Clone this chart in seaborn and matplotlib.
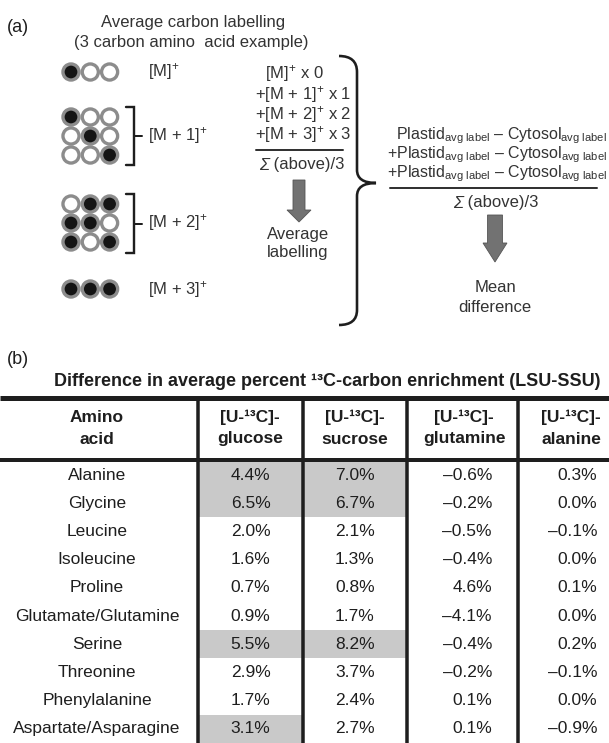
"""Panel (a): average carbon labelling diagram, panel (b): LSU-SSU enrichment table."""
import numpy as np
import pandas as pd
import matplotlib
matplotlib.use("Agg")
import matplotlib.pyplot as plt
from matplotlib.path import Path
from matplotlib.patches import PathPatch
from matplotlib.colors import ListedColormap
import seaborn as sns

# ---- table data (panel b) ----
AMINO_ACIDS = ["Alanine", "Glycine", "Leucine", "Isoleucine", "Proline",
               "Glutamate/Glutamine", "Serine", "Threonine", "Phenylalanine",
               "Aspartate/Asparagine"]
SUBSTRATES = ["glucose", "sucrose", "glutamine", "alanine"]
GLUCOSE   = [4.4, 6.5, 2.0, 1.6, 0.7, 0.9, 5.5, 2.9, 1.7, 3.1]
SUCROSE   = [7.0, 6.7, 2.1, 1.3, 0.8, 1.7, 8.2, 3.7, 2.4, 2.7]
GLUTAMINE = [-0.6, -0.2, -0.5, -0.4, 4.6, -4.1, -0.4, -0.2, 0.1, 0.1]
ALANINE   = [0.3, 0.0, -0.1, 0.0, 0.1, 0.0, 0.2, -0.1, 0.0, -0.9]
# grey-shaded cells
SHADE_GLUCOSE   = [1, 1, 0, 0, 0, 0, 1, 0, 0, 1]
SHADE_SUCROSE   = [1, 1, 0, 0, 0, 0, 1, 0, 0, 0]
SHADE_GLUTAMINE = [0, 0, 0, 0, 0, 0, 0, 0, 0, 0]
SHADE_ALANINE   = [0, 0, 0, 0, 0, 0, 0, 0, 0, 0]

# ---- isotopologue patterns (panel a), 1 = labelled carbon ----
ISO_LABELS = ["[M]", "[M + 1]", "[M + 2]", "[M + 3]"]
PATTERN_M0 = [[1, 0, 0]]
PATTERN_M1 = [[1, 0, 0], [0, 1, 0], [0, 0, 1]]
PATTERN_M2 = [[0, 1, 1], [1, 1, 0], [1, 0, 1]]
PATTERN_M3 = [[1, 1, 1]]

W, H = 609, 743
TXT = "#333333"
INK = "#1e1e1e"
PX = 0.72  # points per pixel at dpi 100

sns.set_style("white")
plt.rcParams["font.family"] = ["Liberation Sans", "DejaVu Sans"]
plt.rcParams["mathtext.fontset"] = "custom"
plt.rcParams["mathtext.rm"] = "Liberation Sans"
plt.rcParams["mathtext.it"] = "Liberation Sans:italic"
plt.rcParams["mathtext.bf"] = "Liberation Sans:bold"

fig = plt.figure(figsize=(W / 100, H / 100), dpi=100)


def fmt(v):
    return f"{v:.1f}%".replace("-", "\u2013")


# ---- table body: one heatmap per column (columns have unequal widths) ----
col_edges = [198, 303, 407, 518, W]
row_top = 461
columns = [(GLUCOSE, SHADE_GLUCOSE, None), (SUCROSE, SHADE_SUCROSE, None),
           (GLUTAMINE, SHADE_GLUTAMINE, 492), (ALANINE, SHADE_ALANINE, 597)]
shade_cmap = ListedColormap(["white", "#c9c9c9"])
for j, (vals, shade, right_px) in enumerate(columns):
    x0, x1 = col_edges[j], col_edges[j + 1]
    hax = fig.add_axes([x0 / W, 0, (x1 - x0) / W, (H - row_top) / H])
    df = pd.DataFrame({SUBSTRATES[j]: shade}, index=AMINO_ACIDS)
    labels = np.array([[fmt(v)] for v in vals])
    sns.heatmap(df, ax=hax, cmap=shade_cmap, vmin=0, vmax=1, cbar=False,
                annot=labels, fmt="", annot_kws=dict(size=12.5, color=INK),
                xticklabels=False, yticklabels=(AMINO_ACIDS if j == 0 else False))
    hax.set_xlabel("")
    hax.set_ylabel("")
    if right_px is not None:
        for t in hax.texts:
            t.set_ha("right")
            t.set_x((right_px - x0) / (x1 - x0))
    if j == 0:
        hax.tick_params(axis="y", length=0, pad=(x0 - 97) * PX)
        for lbl in hax.get_yticklabels():
            lbl.set_rotation(0)
            lbl.set_ha("center")
            lbl.set_fontsize(12.5)
            lbl.set_color(INK)

# ---- overlay axes in pixel coordinates ----
ax = fig.add_axes([0, 0, 1, 1])
ax.set_zorder(10)
ax.patch.set_visible(False)

# circles
circle_rows = [72, 117, 204, 289]
rows = []
for top, pattern in zip(circle_rows, [PATTERN_M0, PATTERN_M1, PATTERN_M2, PATTERN_M3]):
    for r, bits in enumerate(pattern):
        for c, b in enumerate(bits):
            rows.append(dict(x=71 + 19.3 * c, y=top + 19 * r, labelled=b))
circles = pd.DataFrame(rows)
sns.scatterplot(data=circles, x="x", y="y", hue="labelled",
                palette={0: "white", 1: "#141414"}, s=134,
                edgecolor="#8c8c8c", linewidth=2.4, legend=False, ax=ax)

ax.set_xlim(0, W)
ax.set_ylim(H, 0)
ax.axis("off")

# isotopologue labels and brackets
label_y = [72, 136, 223, 289]
for name, y in zip(ISO_LABELS, label_y):
    ax.text(148, y, name + "$^{+}$", fontsize=12, color=TXT, va="center")
for y0, y1 in [(107, 165), (194, 253)]:
    ax.plot([126, 134, 134, 126], [y0, y0, y1, y1], color=INK, lw=2.4 * PX,
            solid_joinstyle="miter")
    ax.plot([134, 142], [(y0 + y1) / 2] * 2, color=INK, lw=2 * PX)

# headings of panel (a)
ax.text(7, 27, "(a)", fontsize=13, color=INK, va="center")
ax.text(193, 23, "Average carbon labelling", fontsize=12, color=TXT,
        ha="center", va="center")
ax.text(191, 42, "(3 carbon amino  acid example)", fontsize=12, color=TXT,
        ha="center", va="center")

# weighted-sum formula
ax.text(294, 74, "[M]$^{+}$ x 0", fontsize=12, color=TXT, ha="center", va="center")
for k, y in zip([1, 2, 3], [95, 115, 135]):
    ax.text(255, y, f"+[M + {k}]$^{{+}}$ x {k}", fontsize=12, color=TXT, va="center")
ax.plot([256, 343], [150, 150], color=TXT, lw=2 * PX)


def sigma_text(xc, y):
    ax.text(xc - 30, y, "\u03a3", fontsize=12, color=TXT, style="italic",
            ha="right", va="center")
    ax.text(xc - 30, y, " (above)/3", fontsize=12, color=TXT, ha="left", va="center")


sigma_text(299, 165)
ax.arrow(299, 180, 0, 42, width=12, head_width=24, head_length=12,
         length_includes_head=True, fc="#727272", ec="#555555", lw=0.6)
ax.text(298, 234, "Average", fontsize=12, color=TXT, ha="center", va="center")
ax.text(298, 253, "labelling", fontsize=12, color=TXT, ha="center", va="center")

# curly brace
verts = [(339, 56), (357, 56), (357, 72), (357, 170), (357, 183), (376, 183),
         (357, 183), (357, 196), (357, 310), (357, 325), (339, 325)]
codes = [Path.MOVETO, Path.CURVE3, Path.CURVE3, Path.LINETO, Path.CURVE3,
         Path.CURVE3, Path.CURVE3, Path.CURVE3, Path.LINETO, Path.CURVE3, Path.CURVE3]
ax.add_patch(PathPatch(Path(verts, codes), fill=False, ec=INK, lw=2.6 * PX))

# mean difference formula
diff = "Plastid$_{\\mathrm{avg\\ label}}$ \u2013 Cytosol$_{\\mathrm{avg\\ label}}$"
for prefix, y in zip(["", "+", "+"], [136, 155, 174]):
    ax.text(607, y, prefix + diff, fontsize=11.5, color=TXT, ha="right", va="center")
ax.plot([390, 597], [188, 188], color=TXT, lw=2 * PX)
sigma_text(493, 203)
ax.arrow(495, 215, 0, 47, width=15, head_width=24, head_length=19,
         length_includes_head=True, fc="#727272", ec="#555555", lw=0.6)
ax.text(495, 287, "Mean", fontsize=12, color=TXT, ha="center", va="center")
ax.text(495, 307, "difference", fontsize=12, color=TXT, ha="center", va="center")

# ---- panel (b) table frame ----
ax.text(7, 360, "(b)", fontsize=13, color=INK, va="center")
ax.text(327, 382, "Difference in average percent \u00b9\u00b3C-carbon enrichment (LSU-SSU)",
        fontsize=13, fontweight="bold", color=INK, ha="center", va="center")
ax.plot([0, W], [398, 398], color=INK, lw=5 * PX, solid_capstyle="butt")
ax.plot([0, W], [460, 460], color=INK, lw=4 * PX, solid_capstyle="butt")
for x in col_edges[:-1]:
    ax.plot([x, x], [398, H], color=INK, lw=3.5 * PX, solid_capstyle="butt")

header_x = [97, 250, 355, 464, 571]
header_top = ["Amino"] + ["[U-\u00b9\u00b3C]-"] * 4
header_bot = ["acid"] + SUBSTRATES
for x, t1, t2 in zip(header_x, header_top, header_bot):
    ax.text(x, 417, t1, fontsize=12.5, fontweight="bold", color=INK, ha="center", va="center")
    ax.text(x, 439, t2, fontsize=12.5, fontweight="bold", color=INK, ha="center", va="center")

fig.savefig("out.png", dpi=100)
